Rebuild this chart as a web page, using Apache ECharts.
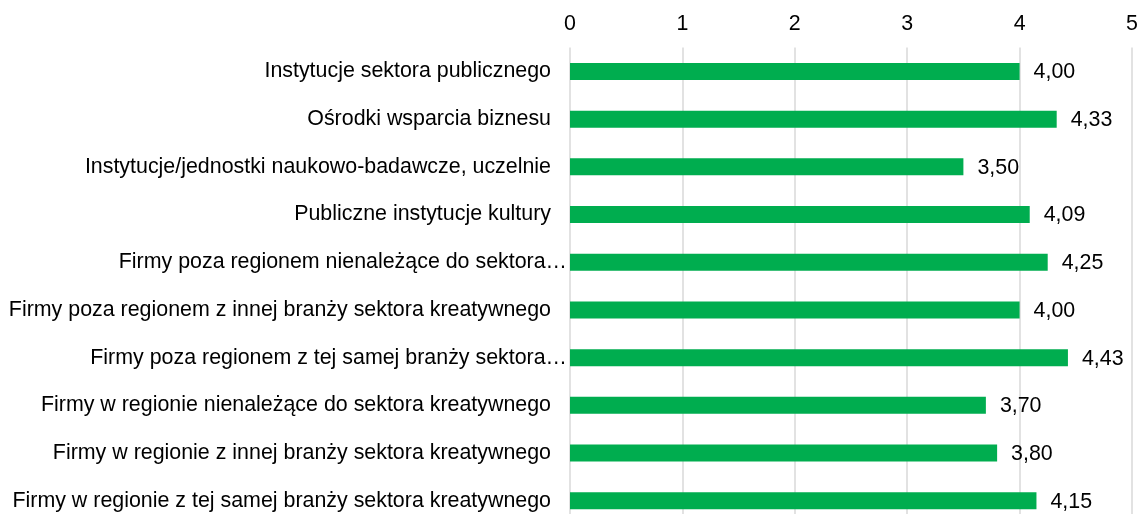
<!DOCTYPE html>
<html>
<head>
<meta charset="utf-8">
<script src="https://cdn.jsdelivr.net/npm/echarts@6/dist/echarts.min.js"></script>
<style>
  html, body { margin: 0; padding: 0; background: #fff; }
  #chart { width: 1137px; height: 514px; }
</style>
</head>
<body>
<div id="chart"></div>
<script>
// Categories listed top to bottom
const categories = [
  'Instytucje sektora publicznego',
  'Ośrodki wsparcia biznesu',
  'Instytucje/jednostki naukowo-badawcze, uczelnie',
  'Publiczne instytucje kultury',
  'Firmy poza regionem nienależące do sektora…',
  'Firmy poza regionem z innej branży sektora kreatywnego',
  'Firmy poza regionem z tej samej branży sektora…',
  'Firmy w regionie nienależące do sektora kreatywnego',
  'Firmy w regionie z innej branży sektora kreatywnego',
  'Firmy w regionie z tej samej branży sektora kreatywnego'
];
const values = [4.00, 4.33, 3.50, 4.09, 4.25, 4.00, 4.43, 3.70, 3.80, 4.15];
const tickLabels = ['0', '1', '2', '3', '4', '5'];

const font = 'Liberation Sans, Arial, sans-serif';
const fs = 21.4;
const chart = echarts.init(document.getElementById('chart'));
chart.setOption({
  animation: false,
  grid: { left: 570, right: 5, top: 47.6, height: 477, outerBoundsMode: 'none' },
  xAxis: {
    type: 'value',
    position: 'top',
    min: 0,
    max: 5,
    interval: 1,
    axisLine: { show: false },
    axisTick: { show: false },
    splitLine: { show: true, lineStyle: { color: '#d9d9d9', width: 1.5 } },
    axisLabel: {
      fontFamily: font, fontSize: fs, color: '#000', margin: 13,
      formatter: v => tickLabels[Math.round(v)]
    }
  },
  yAxis: {
    type: 'category',
    inverse: true,
    data: categories,
    axisLine: { show: false },
    axisTick: { show: false },
    axisLabel: {
      fontFamily: font, fontSize: fs, color: '#000', margin: 3,
      // full labels keep a gap before the plot; shortened ones (…) run up to it
      formatter: v => v.endsWith('…') ? v : v + '{gap|}',
      rich: { gap: { width: 16 } }
    }
  },
  series: [{
    type: 'bar',
    data: values,
    barWidth: 17,
    itemStyle: { color: '#00AD4F' },
    label: {
      show: true,
      position: 'right',
      distance: 14,
      offset: [0, 1],
      fontFamily: font,
      fontSize: fs,
      color: '#000',
      formatter: p => p.value.toFixed(2).replace('.', ',')
    }
  }]
});
</script>
</body>
</html>
